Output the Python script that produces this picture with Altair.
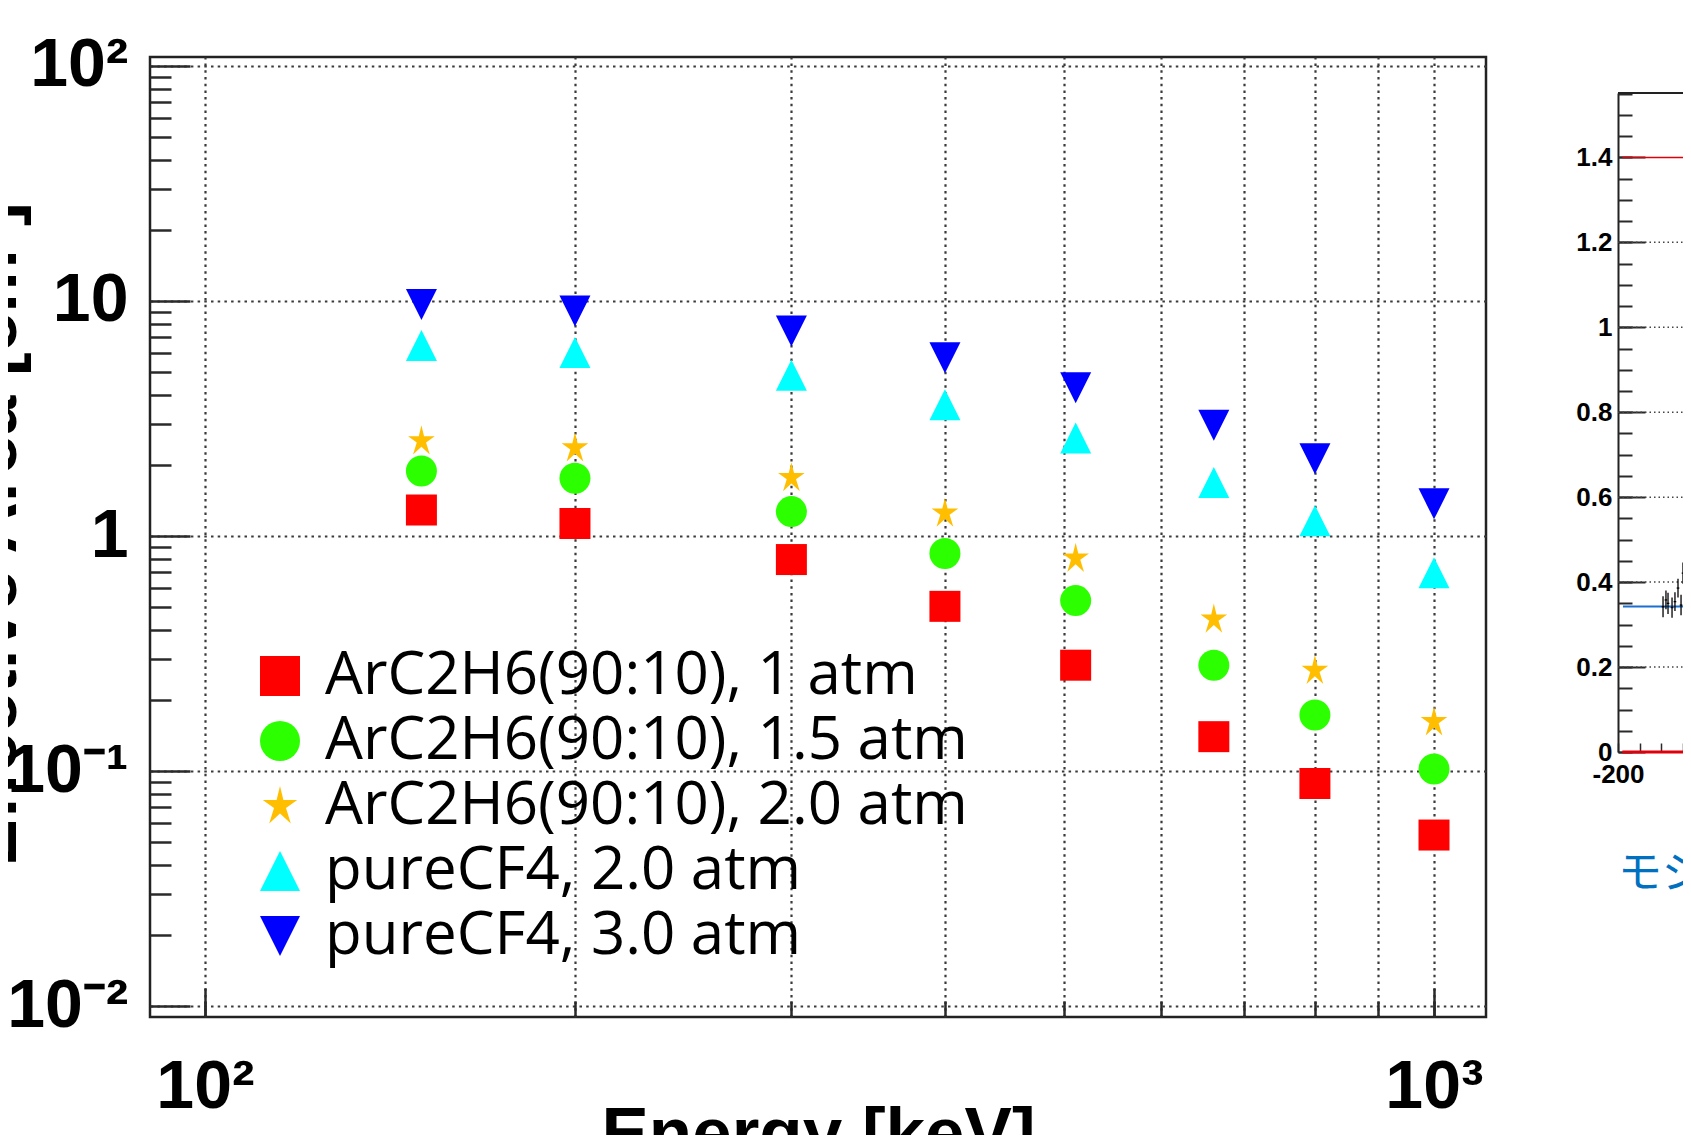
import altair as alt
import pandas as pd

# ---------------- data ----------------
energies = [150, 200, 300, 400, 511, 662, 800, 1000]
series_names = [
    "ArC2H6(90:10), 1 atm",
    "ArC2H6(90:10), 1.5 atm",
    "ArC2H6(90:10), 2.0 atm",
    "pureCF4, 2.0 atm",
    "pureCF4, 3.0 atm",
]
area_ar_1atm = [1.29, 1.13, 0.794, 0.502, 0.282, 0.140, 0.0885, 0.0534]
area_ar_15atm = [1.89, 1.76, 1.27, 0.842, 0.531, 0.282, 0.173, 0.102]
area_ar_20atm = [2.54, 2.37, 1.77, 1.25, 0.804, 0.443, 0.268, 0.162]
area_cf4_20atm = [6.46, 6.03, 4.83, 3.62, 2.61, 1.69, 1.16, 0.697]
area_cf4_30atm = [9.67, 9.06, 7.45, 5.73, 4.27, 2.96, 2.13, 1.37]
series_values = [area_ar_1atm, area_ar_15atm, area_ar_20atm, area_cf4_20atm, area_cf4_30atm]
series_colors = ["#ff0000", "#2bff00", "#ffbf00", "#00ffff", "#0000ff"]

STAR = "M0,-1L0.17,-0.3L0.86,-0.3L0.3,0.1L0.54,0.88L0,0.38L-0.54,0.88L-0.3,0.1L-0.86,-0.3L-0.17,-0.3Z"
TRI_UP = "M0,-1L1,1L-1,1Z"
TRI_DOWN = "M-1,-1L1,-1L0,1Z"
series_shapes = ["square", "circle", STAR, TRI_UP, TRI_DOWN]

x_domain = [90.21, 1102.3]
y_domain = [0.00898, 109.2]
x_major_ticks = [100, 1000]
x_major_labels = ["10²", "10³"]
x_minor_ticks = [100, 200, 300, 400, 500, 600, 700, 800, 900, 1000]
y_major_ticks = [0.01, 0.1, 1, 10, 100]
y_major_labels = ["10⁻²", "10⁻¹", "1", "10", "10²"]
y_minor_ticks = [m * d for d in [0.01, 0.1, 1, 10] for m in range(2, 10)]

# right-hand (partially visible) panel
rp_x = [-158.5, -155.8, -153.9, -150.2, -147.5, -144.7, -141.9, -140.1, -137.3, -134.6]
rp_y = [0.342, 0.358, 0.350, 0.340, 0.354, 0.386, 0.346, 0.421, 0.389, 0.382]
rp_err = [0.025, 0.022, 0.025, 0.024, 0.022, 0.022, 0.024, 0.025, 0.024, 0.022]
rp_fit_level = [0.3425]
rp_red_levels = [0.0, 1.4]
rp_red_widths = [3.0, 1.5]
rp_grid_levels = [0.2, 0.4, 0.6, 0.8, 1.0, 1.2]
rp_x_domain = [-200, 0]
rp_y_domain = [0, 1.5516]
rp_y_major_ticks = [0, 0.2, 0.4, 0.6, 0.8, 1.0, 1.2, 1.4]
rp_y_major_labels = ["0", "0.2", "0.4", "0.6", "0.8", "1", "1.2", "1.4"]
rp_y_minor_ticks = [round(k * 0.05, 2) for k in range(0, 32)]
rp_x_ticks = [-200, -180, -160, -140, -120, -100, -80, -60, -40, -20, 0]
rp_x_labels = ["-200", "", "", "", "", "-100", "", "", "", "", "0"]
rp_fit_start = -195.4
right_caption = "モジュール"

# ---------------- layout constants ----------------
PLOT_W, PLOT_H = 1336, 960
PAD_L, PAD_T = 142, 49
TOTAL_W, TOTAL_H = 1675, 1127
RP_X0 = 1468  # right panel frame, relative to main plot origin
RP_Y0, RP_Y1 = 695, 36

LABEL_FONT = "Liberation Sans"


def ternary(values, labels):
    expr = "''"
    for v, l in reversed(list(zip(values, labels))):
        expr = f"datum.value == {v} ? '{l}' : {expr}"
    return expr


rows = []
for name, vals in zip(series_names, series_values):
    for e, v in zip(energies, vals):
        rows.append({"energy": e, "area": v, "series": name})
df = pd.DataFrame(rows)

x_scale = alt.Scale(type="log", domain=x_domain, nice=False)
y_scale = alt.Scale(type="log", domain=y_domain, nice=False)

tick_color = "#2a2a2a"
grid_kw = dict(gridColor="#3a3a3a", gridDash=[2.5, 4.2], gridWidth=2.2, gridOpacity=1)

axis_x_major = alt.Axis(
    orient="top", offset=-PLOT_H, values=x_major_ticks,
    labelExpr=ternary(x_major_ticks, x_major_labels),
    tickSize=29, tickWidth=2.5, tickColor=tick_color, domain=False, grid=False,
    labelBaseline="top", labelAlign="center", labelPadding=-65,
    labelFont=LABEL_FONT, labelFontSize=68, labelFontWeight="bold", labelColor="black",
    labelFlush=False, labelOverlap=False,
    title="Energy [keV]", titleFont=LABEL_FONT, titleFontSize=71, titleFontWeight="bold",
    titleColor="black", titleX=PLOT_W / 2, titleY=139, titleAlign="center",
    titleBaseline="alphabetic", titleAngle=0,
)
axis_x_minor = alt.Axis(
    orient="top", offset=-PLOT_H, values=x_minor_ticks, labels=False,
    tickSize=16, tickWidth=2.5, tickColor=tick_color, domain=False, grid=True, title=None,
    **grid_kw,
)
axis_y_major = alt.Axis(
    orient="right", offset=-PLOT_W, values=y_major_ticks,
    labelExpr=ternary(y_major_ticks, y_major_labels),
    tickSize=40, tickWidth=2.5, tickColor=tick_color, domain=False, grid=True,
    labelAlign="right", labelBaseline="middle", labelPadding=-62,
    labelFont=LABEL_FONT, labelFontSize=68, labelFontWeight="bold", labelColor="black",
    labelFlush=False, labelOverlap=False,
    title="Effective Area [cm²]", titleFont=LABEL_FONT, titleFontSize=71,
    titleFontWeight="bold", titleColor="black", titleAngle=270,
    titleX=-135, titleY=477, titleAlign="center", titleBaseline="alphabetic",
    **grid_kw,
)
axis_y_minor = alt.Axis(
    orient="right", offset=-PLOT_W, values=y_minor_ticks, labels=False,
    tickSize=21, tickWidth=2.5, tickColor=tick_color, domain=False, grid=False, title=None,
)

points = alt.Chart(df).mark_point(filled=True, size=961, opacity=1, strokeWidth=0).encode(
    x=alt.X("energy:Q", scale=x_scale, axis=axis_x_major),
    y=alt.Y("area:Q", scale=y_scale, axis=axis_y_major),
    color=alt.Color(
        "series:N", sort=series_names,
        scale=alt.Scale(domain=series_names, range=series_colors),
        legend=alt.Legend(
            title=None, orient="none", legendX=100, legendY=589, padding=0,
            labelFont="Open Sans", labelFontSize=60, labelColor="black",
            labelLimit=1000, labelOffset=15, rowPadding=5,
            symbolSize=1600, symbolStrokeWidth=0, symbolOpacity=1,
        ),
    ),
    shape=alt.Shape(
        "series:N", sort=series_names,
        scale=alt.Scale(domain=series_names, range=series_shapes),
    ),
)
minor = alt.Chart(df).mark_point(opacity=0).encode(
    x=alt.X("energy:Q", scale=x_scale, axis=axis_x_minor),
    y=alt.Y("area:Q", scale=y_scale, axis=axis_y_minor),
)
main = alt.layer(points, minor).resolve_axis(x="independent", y="independent")

# ---------------- right panel ----------------
xr_scale = alt.Scale(domain=rp_x_domain, range=[RP_X0, RP_X0 + 217], nice=False, zero=False)
yr_scale = alt.Scale(domain=rp_y_domain, range=[RP_Y0, RP_Y1], nice=False, zero=False)

axis_yr_major = alt.Axis(
    orient="right", offset=RP_X0 - PLOT_W, values=rp_y_major_ticks,
    labelExpr=ternary(rp_y_major_ticks, rp_y_major_labels),
    tickSize=27, tickWidth=2, tickColor=tick_color,
    domain=True, domainColor="#222222", domainWidth=2, grid=False,
    labelAlign="right", labelBaseline="middle", labelPadding=-33,
    labelFont=LABEL_FONT, labelFontSize=26, labelFontWeight="bold", labelColor="black",
    labelFlush=False, labelOverlap=False, title=None,
)
axis_yr_minor = alt.Axis(
    orient="right", offset=RP_X0 - PLOT_W, values=rp_y_minor_ticks, labels=False,
    tickSize=14, tickWidth=2, tickColor=tick_color, domain=False, grid=False, title=None,
)
axis_xr = alt.Axis(
    orient="top", offset=-RP_Y0, values=rp_x_ticks,
    labelExpr=ternary(rp_x_ticks, rp_x_labels),
    tickSize=9, tickWidth=1.5, tickColor=tick_color, domain=False, grid=False,
    labelBaseline="top", labelAlign="center", labelPadding=-18,
    labelFont=LABEL_FONT, labelFontSize=26, labelFontWeight="bold", labelColor="black",
    labelFlush=False, labelOverlap=False, title=None,
)

r_grid = alt.Chart(pd.DataFrame({"v": rp_grid_levels})).mark_rule(
    color="#444444", strokeWidth=1.5, strokeDash=[1.5, 3]
).encode(
    y=alt.Y("v:Q", scale=yr_scale, axis=axis_yr_major),
    x=alt.XDatum(rp_x_domain[0], type="quantitative", scale=xr_scale, axis=axis_xr),
    x2=alt.X2Datum(rp_x_domain[1]),
)
r_red = alt.Chart(pd.DataFrame({"v": rp_red_levels, "w": rp_red_widths})).mark_rule(
    color="#e0000b"
).encode(
    y=alt.Y("v:Q", scale=yr_scale, axis=axis_yr_minor),
    x=alt.XDatum(rp_x_domain[0] + 4, type="quantitative", scale=xr_scale, axis=None),
    x2=alt.X2Datum(rp_x_domain[1]),
    strokeWidth=alt.StrokeWidth("w:Q", scale=None),
)
r_top = alt.Chart(pd.DataFrame({"v": [rp_y_domain[1]]})).mark_rule(
    color="#222222", strokeWidth=2
).encode(
    y=alt.Y("v:Q", scale=yr_scale, axis=None),
    x=alt.XDatum(rp_x_domain[0], type="quantitative", scale=xr_scale, axis=None),
    x2=alt.X2Datum(rp_x_domain[1]),
)
r_blue = alt.Chart(pd.DataFrame({"v": rp_fit_level})).mark_rule(
    color="#1a6fd1", strokeWidth=2
).encode(
    y=alt.Y("v:Q", scale=yr_scale, axis=None),
    x=alt.XDatum(rp_fit_start, type="quantitative", scale=xr_scale, axis=None),
    x2=alt.X2Datum(rp_x_domain[1]),
)
pts = pd.DataFrame({"x": rp_x, "y": rp_y, "e": rp_err})
pts["lo"] = pts["y"] - pts["e"]
pts["hi"] = pts["y"] + pts["e"]
pts["xl"] = pts["x"] - 1.2
pts["xh"] = pts["x"] + 1.2
r_errv = alt.Chart(pts).mark_rule(color="black", strokeWidth=1.3).encode(
    x=alt.X("x:Q", scale=xr_scale, axis=None),
    y=alt.Y("lo:Q", scale=yr_scale, axis=None),
    y2="hi:Q",
)
r_errh = alt.Chart(pts).mark_rule(color="black", strokeWidth=1.3).encode(
    x=alt.X("xl:Q", scale=xr_scale, axis=None),
    x2="xh:Q",
    y=alt.Y("y:Q", scale=yr_scale, axis=None),
)
r_text = alt.Chart(pd.DataFrame({"t": [right_caption]})).mark_text(
    font="Noto Sans CJK JP", fontSize=44, color="#0070c0", align="left", baseline="middle"
).encode(
    x=alt.XDatum(rp_x_domain[0], type="quantitative", scale=xr_scale, axis=None),
    y=alt.YDatum(-0.29, type="quantitative", scale=yr_scale, axis=None),
    text="t:N",
)
right = alt.layer(r_grid, r_red, r_top, r_blue, r_errv, r_errh, r_text).resolve_axis(
    x="independent", y="independent"
)

chart = (
    alt.layer(main, right)
    .resolve_scale(x="independent", y="independent")
    .properties(
        width=PLOT_W, height=PLOT_H,
        autosize=alt.AutoSizeParams(type="none"),
        padding={"left": PAD_L, "top": PAD_T,
                 "right": TOTAL_W - PAD_L - PLOT_W, "bottom": TOTAL_H - PAD_T - PLOT_H},
        background="white",
    )
    .configure_view(stroke="#222222", strokeWidth=2.5)
)

chart.save("out.html", embed_options={"renderer": "svg", "actions": False})
